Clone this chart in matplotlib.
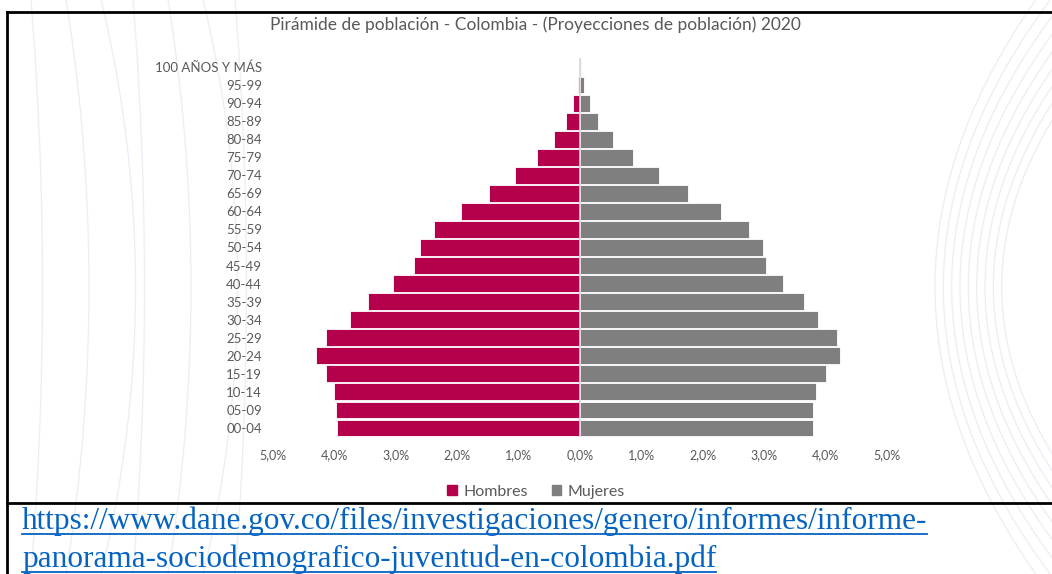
import numpy as np
import matplotlib
matplotlib.use("Agg")
import matplotlib.pyplot as plt
from matplotlib.patches import Patch

# ======= Data (percent of total population, 2020) =======
grupos = ["00-04", "05-09", "10-14", "15-19", "20-24", "25-29", "30-34",
          "35-39", "40-44", "45-49", "50-54", "55-59", "60-64", "65-69",
          "70-74", "75-79", "80-84", "85-89", "90-94", "95-99", "100 AÑOS Y MÁS"]
hombres = [3.96, 3.97, 4.00, 4.14, 4.30, 4.14, 3.75, 3.45, 3.04, 2.70, 2.61,
           2.37, 1.94, 1.48, 1.06, 0.70, 0.42, 0.23, 0.11, 0.04, 0.01]
mujeres = [3.79, 3.80, 3.84, 4.01, 4.24, 4.19, 3.87, 3.65, 3.30, 3.03, 2.98,
           2.76, 2.29, 1.76, 1.28, 0.87, 0.54, 0.30, 0.16, 0.06, 0.01]
xticks = [-5, -4, -3, -2, -1, 0, 1, 2, 3, 4, 5]

titulo = "Pirámide de población - Colombia - (Proyecciones de población) 2020"
link1 = "https://www.dane.gov.co/files/investigaciones/genero/informes/informe-"
link2 = "panorama-sociodemografico-juventud-en-colombia.pdf"

C_H = "#b5004b"
C_M = "#7f7f7f"
TXT = "#595959"
LINK = "#0563c1"

W, H = 1052, 574
fig = plt.figure(figsize=(W / 100, H / 100), dpi=100)
fig.patch.set_facecolor("white")

# ======= faint background curves (slide decoration) =======
bg = fig.add_axes([0, 0, 1, 1], zorder=-5)
bg.set_xlim(0, W)
bg.set_ylim(H, 0)
bg.axis("off")
t = np.linspace(-1, 1, 200)
for k in range(7):
    off = 30 + k * 34
    bg.plot(off + 25 * (1 - t ** 2) * (k % 3 + 1) / 2, 287 + 300 * t,
            color="#e3e9f0", lw=1.0, alpha=0.7)
for k in range(9):
    off = 935 + k * 15
    bg.plot(off + 110 * (t ** 2) - 20 * k * (1 - t ** 2) / 3, 287 + 300 * t,
            color="#e3e9f0", lw=1.0, alpha=0.7)
# white chart area
bg.add_patch(plt.Rectangle((142, 13), 778, 489, color="white", zorder=1))

# table frame lines
bg.plot([7, W], [12, 12], color="black", lw=2, zorder=3)
bg.plot([7, W], [503, 503], color="black", lw=2, zorder=3)
bg.plot([7, 7], [12, H], color="black", lw=2, zorder=3)

# ======= Pyramid =======
x0, x1 = 273 / W, 887 / W
y_top, y_bot = 58, 437
ax = fig.add_axes([x0, 1 - y_bot / H, x1 - x0, (y_bot - y_top) / H])
ax.set_facecolor("none")
y = np.arange(len(grupos))
ax.barh(y, -np.array(hombres), height=0.93, color=C_H, edgecolor="white", lw=0.6, zorder=2)
ax.barh(y, mujeres, height=0.93, color=C_M, edgecolor="white", lw=0.6, zorder=2)
ax.axvline(0, color="#d9d9d9", lw=1.2, zorder=3)

ax.set_xlim(-5, 5)
ax.set_ylim(-0.5, len(grupos) - 0.5)
ax.set_yticks(y)
ax.set_yticklabels(grupos, fontsize=9.5, color=TXT, fontfamily="Lato")
ax.set_xticks(xticks)
ax.set_xticklabels([f"{abs(v):.1f}%".replace(".", ",") for v in xticks],
                   fontsize=9, color=TXT, fontfamily="Lato")
ax.tick_params(axis="y", length=0, pad=8)
ax.tick_params(axis="x", length=0, pad=9)
for s in ax.spines.values():
    s.set_visible(False)

fig.text(535 / W, 1 - 25 / H, titulo, ha="center", va="center",
         fontsize=12.5, color=TXT, fontfamily="Lato")

handles = [Patch(color=C_H, label="Hombres"), Patch(color=C_M, label="Mujeres")]
fig.legend(handles=handles, loc="center", bbox_to_anchor=(536 / W, 1 - 492 / H),
           ncol=2, frameon=False, handlelength=0.6, handleheight=0.6,
           handletextpad=0.4, columnspacing=1.5,
           prop={"family": "Lato", "size": 11.5}, labelcolor=TXT)

# ======= source link (underlined) =======
fig.canvas.draw()
rend = fig.canvas.get_renderer()
for txt, base in [(link1, 529), (link2, 567)]:
    tx = fig.text(22 / W, 1 - base / H, txt, ha="left", va="baseline",
                  fontsize=22.5, color=LINK, fontfamily="Liberation Serif")
    bb = tx.get_window_extent(renderer=rend)
    bg.plot([bb.x0, bb.x1], [base + 5, base + 5], color=LINK, lw=1.3, zorder=4)

fig.savefig("out.png", dpi=100)
